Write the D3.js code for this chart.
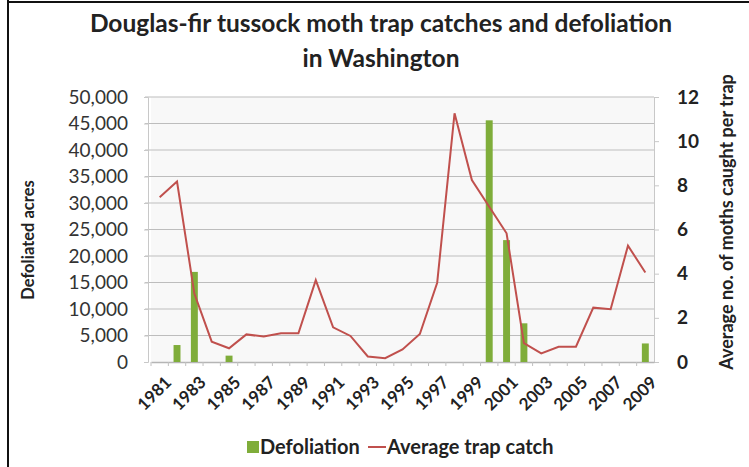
<!DOCTYPE html>
<html><head><meta charset="utf-8">
<script src="https://cdn.jsdelivr.net/npm/d3@7"></script>
<style>body{margin:0;background:#fff;}svg{display:block;}</style>
</head><body>
<svg id="c" width="749" height="467"></svg>
<script>
const years = d3.range(1981, 2010).map(String);
const defoliation = [0,3200,17000,0,1200,0,0,0,0,0,0,0,0,0,0,0,0,0,0,45600,23000,7300,0,0,0,0,0,0,3500];
const trapCatch = [7.46,8.17,3.1,0.92,0.62,1.25,1.15,1.3,1.3,3.71,1.57,1.18,0.25,0.17,0.57,1.27,3.59,11.26,8.24,7.03,5.83,0.85,0.39,0.69,0.69,2.46,2.39,5.27,4.05];
const leftTicks = [0,5000,10000,15000,20000,25000,30000,35000,40000,45000,50000];
const rightTicks = [0,2,4,6,8,10,12];
const xLabels = years.filter((d,i)=>i%2===0);

const svg = d3.select("#c");
const F = "Lato, 'Open Sans', sans-serif";
const L=151, R=654, T=97, B=362;
const x = d3.scaleBand().domain(years).range([L,R]).paddingInner(0.6).paddingOuter(0.3);
const yL = d3.scaleLinear().domain([0,50000]).range([B,T]);
const yR = d3.scaleLinear().domain([0,12]).range([B,T]);

// frame
svg.append("line").attr("x1",8).attr("x2",8).attr("y1",0).attr("y2",467).attr("stroke","#111").attr("stroke-width",2);
svg.append("line").attr("x1",8).attr("x2",749).attr("y1",2).attr("y2",2).attr("stroke","#111").attr("stroke-width",2);

// plot bg
svg.append("rect").attr("x",L).attr("y",T).attr("width",R-L).attr("height",B-T).attr("fill","#f8f8f8");

// grid
svg.append("g").selectAll("line").data(leftTicks.filter(d=>d>0)).join("line")
  .attr("x1",L-6).attr("x2",R).attr("y1",d=>yL(d)).attr("y2",d=>yL(d))
  .attr("stroke","#bdbdbd").attr("stroke-width",1.2);

// left axis
const gl = svg.append("g").attr("transform",`translate(${L-3},0)`)
  .call(d3.axisLeft(yL).tickValues(leftTicks).tickFormat(d3.format(",")).tickSize(4).tickPadding(16));
gl.select(".domain").attr("stroke","#c8c8c8");
gl.selectAll(".tick line").attr("stroke","#c8c8c8");
gl.selectAll("text").attr("font-family",F).attr("font-size",19).attr("fill","#333");

// right axis
const gr = svg.append("g").attr("transform",`translate(${R},0)`)
  .call(d3.axisRight(yR).tickValues(rightTicks).tickSize(5).tickPadding(18));
gr.select(".domain").attr("stroke","#c8c8c8");
gr.selectAll(".tick line").attr("stroke","#c8c8c8");
gr.selectAll("text").attr("font-family",F).attr("font-size",19).attr("font-weight","bold").attr("fill","#222");

// x axis
const gx = svg.append("g").attr("transform",`translate(0,${B})`)
  .call(d3.axisBottom(x).tickSize(0).tickFormat(d=>xLabels.includes(d)?d:""));
gx.select(".domain").attr("stroke","#b5b5b5").attr("stroke-width",1.3);
gx.selectAll("text").attr("font-family",F).attr("font-size",17).attr("font-weight","bold").attr("fill","#222")
  .attr("text-anchor","end").attr("transform","translate(0,6) rotate(-45)")
  .attr("x",-2).attr("y",14).attr("dx",0).attr("dy","0.35em");
const bounds = years.map(d=>x(d)-x.step()*x.paddingInner()/2);
svg.append("g").selectAll("line").data(bounds).join("line")
  .attr("x1",d=>d).attr("x2",d=>d).attr("y1",B).attr("y2",B+4).attr("stroke","#c0c0c0");

// bars
svg.append("g").selectAll("rect").data(years.map((y,i)=>({y,v:defoliation[i]})).filter(d=>d.v>0)).join("rect")
  .attr("x",d=>x(d.y)).attr("width",x.bandwidth()).attr("y",d=>yL(d.v)).attr("height",d=>B-yL(d.v))
  .attr("fill","#7fad3a");

// line
const line = d3.line().x((d,i)=>x(years[i])+x.bandwidth()/2).y(d=>yR(d));
svg.append("path").datum(trapCatch).attr("d",line).attr("fill","none").attr("stroke","#c0504d").attr("stroke-width",2);

// titles
svg.append("text").attr("x",381).attr("y",32).attr("text-anchor","middle").attr("font-family",F).attr("font-weight","bold").attr("font-size",24.5).attr("fill","#222").text("Douglas-fir tussock moth trap catches and defoliation");
svg.append("text").attr("x",381).attr("y",67).attr("text-anchor","middle").attr("font-family",F).attr("font-weight","bold").attr("font-size",24.5).attr("fill","#222").text("in Washington");
svg.append("text").attr("transform",`translate(34,240) rotate(-90)`).attr("text-anchor","middle").attr("font-family",F).attr("font-weight","bold").attr("font-size",16.5).attr("fill","#222").text("Defoliated acres");
svg.append("text").attr("transform",`translate(733,222) rotate(-90)`).attr("text-anchor","middle").attr("font-family",F).attr("font-weight","bold").attr("font-size",18).attr("fill","#222").text("Average no. of moths caught per trap");

// legend
const lg = svg.append("g");
lg.append("rect").attr("x",247).attr("y",441).attr("width",12).attr("height",12).attr("fill","#7fad3a");
lg.append("text").attr("x",260).attr("y",454).attr("font-family",F).attr("font-weight","bold").attr("font-size",20).attr("fill","#222").text("Defoliation");
lg.append("line").attr("x1",368).attr("x2",386).attr("y1",447).attr("y2",447).attr("stroke","#c0504d").attr("stroke-width",2);
lg.append("text").attr("x",387).attr("y",454).attr("font-family",F).attr("font-weight","bold").attr("font-size",20).attr("fill","#222").text("Average trap catch");
</script>
</body></html>
